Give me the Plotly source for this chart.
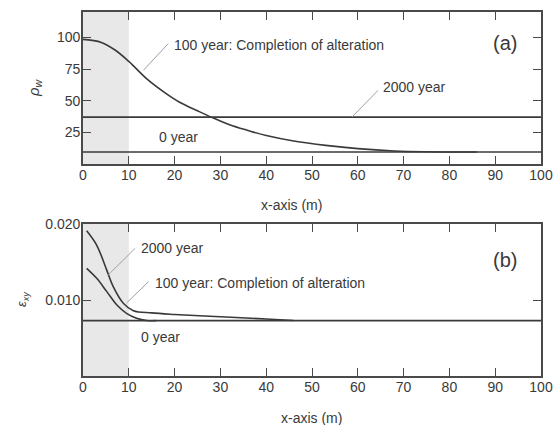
import plotly.graph_objects as go

# ---- data ----
x_ticks = [0, 10, 20, 30, 40, 50, 60, 70, 80, 90, 100]

# panel (a)
pw_x_100 = [0, 2, 4, 7, 10, 14, 18, 21, 25, 28, 32, 36, 40, 46, 53, 60, 68, 75, 86]
pw_y_100 = [98.4, 97.6, 96, 90, 81, 67, 56, 49, 42, 37, 31, 26.5, 22.5, 18.2, 14.7, 12.1, 10.3, 9.7, 9.5]
pw_x_flat = [0, 100]
pw_y_0 = [9.5, 9.5]
pw_y_2000 = [37, 37]
pw_ticks = [25, 50, 75, 100]

# panel (b)
ex_x_2000 = [0.8, 3, 5.2, 6.6, 8.8, 11, 15, 20, 30, 40, 46]
ex_y_2000 = [0.0191, 0.0172, 0.0139, 0.01175, 0.00957, 0.00859, 0.0083, 0.0081, 0.0078, 0.0075, 0.0073]
ex_x_100 = [0.8, 3, 5.2, 7.4, 9.5, 11.7, 13.9, 16]
ex_y_100 = [0.01417, 0.01285, 0.0111, 0.00934, 0.00825, 0.0076, 0.0073, 0.00728]
ex_x_flat = [0, 100]
ex_y_0 = [0.00728, 0.00728]
ex_ticks = [0.010, 0.020]
ex_ticklabels = ["0.010", "0.020"]

FONT = "Arial, Liberation Sans, sans-serif"
TXT = "#3a3a3a"
LINE = "#3a3a3a"
AX = "#4a4a4a"
LEAD = "#a0a0a0"

fig = go.Figure()
lw = 1.6
fig.add_trace(go.Scatter(x=pw_x_flat, y=pw_y_0, mode="lines", line=dict(color=LINE, width=lw), xaxis="x", yaxis="y"))
fig.add_trace(go.Scatter(x=pw_x_flat, y=pw_y_2000, mode="lines", line=dict(color=LINE, width=lw), xaxis="x", yaxis="y"))
fig.add_trace(go.Scatter(x=pw_x_100, y=pw_y_100, mode="lines", line=dict(color=LINE, width=lw, shape="spline"), xaxis="x", yaxis="y"))

fig.add_trace(go.Scatter(x=ex_x_flat, y=ex_y_0, mode="lines", line=dict(color=LINE, width=lw), xaxis="x2", yaxis="y2"))
fig.add_trace(go.Scatter(x=ex_x_2000, y=ex_y_2000, mode="lines", line=dict(color=LINE, width=lw, shape="spline"), xaxis="x2", yaxis="y2"))
fig.add_trace(go.Scatter(x=ex_x_100, y=ex_y_100, mode="lines", line=dict(color=LINE, width=lw, shape="spline"), xaxis="x2", yaxis="y2"))

W, H = 557, 425
xdom = [83 / W, 541 / W]
ya = [1 - 164 / H, 1 - 12 / H]
yb = [1 - 376 / H, 1 - 224 / H]

axcommon = dict(showline=True, linecolor=AX, linewidth=1.6, mirror="ticks", ticks="inside",
                ticklen=8, tickwidth=1.4, tickcolor=AX, showgrid=False, zeroline=False,
                automargin=False,
                tickfont=dict(family=FONT, size=14, color=TXT))
xcommon = dict(axcommon, ticklabelstandoff=-3)
ycommon = dict(axcommon, ticklabelstandoff=-2)

fig.update_layout(
    template="none",
    width=W, height=H, autosize=False, margin=dict(l=0, r=0, t=0, b=0, pad=0),
    paper_bgcolor="white", plot_bgcolor="white", showlegend=False,
    xaxis=dict(domain=xdom, anchor="y", range=[0, 100], tickvals=x_ticks, **xcommon),
    yaxis=dict(domain=ya, anchor="x", range=[0, 120], tickvals=pw_ticks, **ycommon),
    xaxis2=dict(domain=xdom, anchor="y2", range=[0, 100], tickvals=x_ticks, **xcommon),
    yaxis2=dict(domain=yb, anchor="x2", range=[0, 0.02], tickvals=ex_ticks, ticktext=ex_ticklabels, **ycommon),
)

# shaded zones
fig.add_shape(type="rect", xref="x", yref="y", x0=0, x1=10, y0=0, y1=120, fillcolor="#e8e8e8", line_width=0, layer="below")
fig.add_shape(type="rect", xref="x2", yref="y2", x0=0, x1=10, y0=0, y1=0.02, fillcolor="#e8e8e8", line_width=0, layer="below")

# leader lines
fig.add_shape(type="line", xref="x", yref="y", x0=13.2, y0=74, x1=18.6, y1=95, line=dict(color=LEAD, width=1))
fig.add_shape(type="line", xref="x", yref="y", x0=58.7, y0=37, x1=64.4, y1=58, line=dict(color=LEAD, width=1))
fig.add_shape(type="line", xref="x2", yref="y2", x0=5.5, y0=0.0133, x1=11.4, y1=0.0168, line=dict(color=LEAD, width=1))
fig.add_shape(type="line", xref="x2", yref="y2", x0=9.5, y0=0.0096, x1=14.3, y1=0.0124, line=dict(color=LEAD, width=1))

def ann(text, x, y, xref, yref, size=14, xanchor="left", **kw):
    fig.add_annotation(text=text, x=x, y=y, xref=xref, yref=yref, showarrow=False,
                       xanchor=xanchor, yanchor="middle",
                       font=dict(family=FONT, size=size, color=TXT), **kw)

ann("100 year: Completion of alteration", 19.4, 93.7, "x", "y")
ann("2000 year", 65.0, 60.5, "x", "y")
ann("0 year", 20.8, 21, "x", "y", xanchor="center")
ann("(a)", 92.2, 95.3, "x", "y", size=20, xanchor="center")

ann("2000 year", 12.3, 0.0168, "x2", "y2")
ann("100 year: Completion of alteration", 15.2, 0.0122, "x2", "y2")
ann("0 year", 17.0, 0.00517, "x2", "y2", xanchor="center")
ann("(b)", 92.2, 0.0153, "x2", "y2", size=20, xanchor="center")

# axis titles
ann("x-axis (m)", 291 / W, 1 - 205 / H, "paper", "paper", size=14, xanchor="center")
ann("x-axis (m)", 311.5 / W, 1 - 418 / H, "paper", "paper", size=14, xanchor="center")
ann("<i>ρ</i><sub><i>w</i></sub>", 35 / W, 1 - 88 / H, "paper", "paper", size=15, xanchor="center", textangle=-90)
ann("<i>ε</i><sub><i>xy</i></sub>", 22 / W, 1 - 300 / H, "paper", "paper", size=13, xanchor="center", textangle=-90)

fig.write_html("out.html",
               config={"responsive": False, "displayModeBar": False},
               post_script="document.body.style.margin='0';document.body.style.overflow='hidden';")
